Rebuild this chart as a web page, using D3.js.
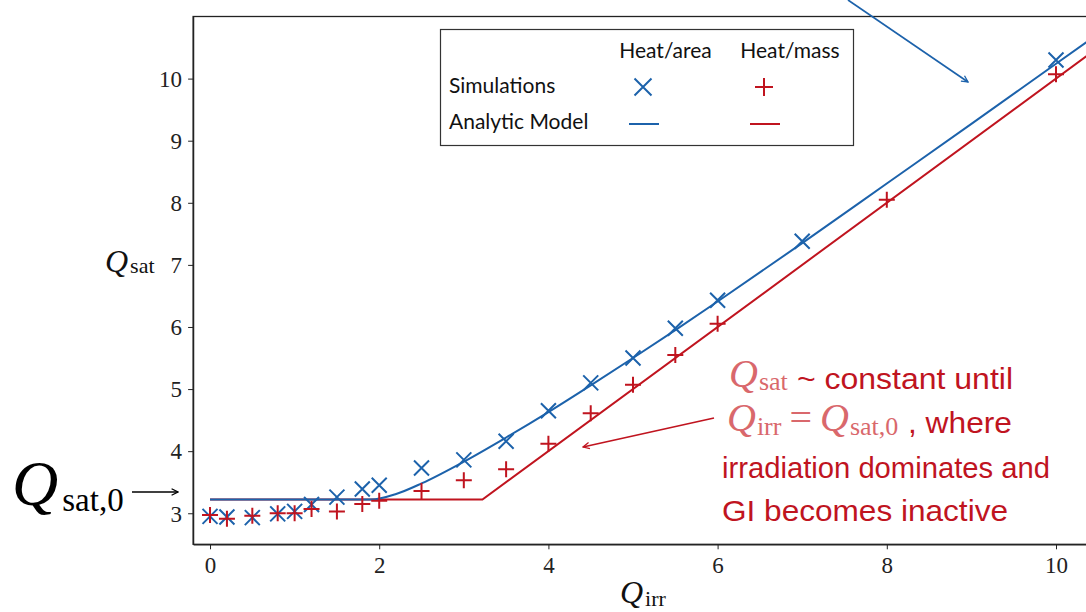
<!DOCTYPE html>
<html><head><meta charset="utf-8">
<script src="https://cdn.jsdelivr.net/npm/d3@7"></script>
<style>
body{margin:0;background:#fff;}
svg{display:block;overflow:hidden;}
</style></head>
<body>
<svg id="chart" width="1086" height="612"></svg>
<script>
// ---- data ----
const xTicks = [0, 2, 4, 6, 8, 10];
const yTicks = [3, 4, 5, 6, 7, 8, 9, 10];
const simQirr = [0, 0.2, 0.5, 0.8, 1.0, 1.2, 1.5, 1.8, 2.0, 2.5, 3.0, 3.5, 4.0, 4.5, 5.0, 5.5, 6.0];
const simArea = [2.95, 2.94, 2.93, 2.99, 3.03, 3.14, 3.26, 3.39, 3.45, 3.73, 3.86, 4.16, 4.65, 5.10, 5.50, 5.98, 6.43];
const simMass = [2.97, 2.91, 2.96, 3.00, 3.00, 3.07, 3.03, 3.15, 3.20, 3.36, 3.53, 3.71, 4.12, 4.61, 5.07, 5.55, 6.05];
const extraAreaQirr = [7, 10];
const extraArea = [7.38, 10.30];
const extraMassQirr = [8, 10];
const extraMass = [8.05, 10.07];
const modelAreaQirr = [0, 1.9, 2.2, 2.5, 3.0, 3.5, 4.0, 4.5, 5.0, 5.5, 6.0, 7.0, 8.0, 9.0, 10.0, 10.6];
const modelArea =     [3.22, 3.22, 3.31, 3.48, 3.83, 4.22, 4.63, 5.06, 5.50, 5.95, 6.41, 7.35, 8.31, 9.27, 10.24, 10.82];
const modelMassQirr = [0, 3.22, 10.6];
const modelMass =     [3.22, 3.22, 10.6];

const BLUE = "#1c62ab", RED = "#c0141f", PINK = "#d9686c";
const svg = d3.select("#chart");

const x = d3.scaleLinear().domain([-0.2, 10.5]).range([193.1, 1098.3]);
const y = d3.scaleLinear().domain([2.5, 11.0]).range([544.3, 16.5]);

// frame (top + bottom + left spines)
svg.append("rect").attr("x", x(-0.2)).attr("y", y(11)).attr("width", x(10.5) - x(-0.2)).attr("height", y(2.5) - y(11))
  .attr("fill", "none").attr("stroke", "#222").attr("stroke-width", 1.3);

const serif = "'Liberation Serif', 'DejaVu Serif', serif";
const xAxis = svg.append("g").attr("transform", `translate(0,${y(2.5)})`)
  .call(d3.axisBottom(x).tickValues(xTicks).tickSize(5).tickSizeOuter(0).tickPadding(7).tickFormat(d3.format("d")));
const yAxis = svg.append("g").attr("transform", `translate(${x(-0.2)},0)`)
  .call(d3.axisLeft(y).tickValues(yTicks).tickSize(5).tickSizeOuter(0).tickPadding(6).tickFormat(d3.format("d")));
[xAxis, yAxis].forEach(a => {
  a.select(".domain").attr("stroke", "#222").attr("stroke-width", 1.3);
  a.selectAll(".tick line").attr("stroke", "#222").attr("stroke-width", 1);
  a.selectAll(".tick text").attr("font-family", serif).attr("font-size", 23).attr("fill", "#222");
});
yAxis.selectAll(".tick text").attr("dy", "0.34em");

// model lines
const line = d3.line().x(d => x(d[0])).y(d => y(d[1]));
svg.append("path").datum(modelMassQirr.map((q, i) => [q, modelMass[i]]))
  .attr("d", line).attr("fill", "none").attr("stroke", RED).attr("stroke-width", 2);
svg.append("path").datum(modelAreaQirr.map((q, i) => [q, modelArea[i]]))
  .attr("d", line.curve(d3.curveMonotoneX)).attr("fill", "none").attr("stroke", BLUE).attr("stroke-width", 2);

// markers
function xMark(g, cx, cy, s, col) {
  g.append("path").attr("d", `M${cx - s},${cy - s}L${cx + s},${cy + s}M${cx - s},${cy + s}L${cx + s},${cy - s}`)
    .attr("stroke", col).attr("stroke-width", 2).attr("fill", "none");
}
function plusMark(g, cx, cy, s, col) {
  g.append("path").attr("d", `M${cx - s},${cy}L${cx + s},${cy}M${cx},${cy - s}L${cx},${cy + s}`)
    .attr("stroke", col).attr("stroke-width", 2).attr("fill", "none");
}
const mk = svg.append("g");
const areaPts = simQirr.map((q, i) => [q, simArea[i]]).concat(extraAreaQirr.map((q, i) => [q, extraArea[i]]));
const massPts = simQirr.map((q, i) => [q, simMass[i]]).concat(extraMassQirr.map((q, i) => [q, extraMass[i]]));
areaPts.forEach(d => xMark(mk, x(d[0]), y(d[1]), 7.5, BLUE));
massPts.forEach(d => plusMark(mk, x(d[0]), y(d[1]), 8, RED));

// legend
const lg = svg.append("g");
lg.append("rect").attr("x", 440.5).attr("y", 29.5).attr("width", 413).attr("height", 116)
  .attr("fill", "#fff").attr("stroke", "#333").attr("stroke-width", 1.2);
const sans = "Lato, 'Open Sans', sans-serif";
const lt = (t, xx, yy, anchor) => lg.append("text").attr("x", xx).attr("y", yy).attr("text-anchor", anchor || "start")
  .attr("font-family", sans).attr("font-size", 21).attr("fill", "#111").text(t);
lt("Heat/area", 665.5, 58, "middle");
lt("Heat/mass", 790, 58, "middle");
lt("Simulations", 449, 93);
lt("Analytic Model", 449, 129);
xMark(lg, 643, 87, 8.5, BLUE);
plusMark(lg, 764, 87, 9, RED);
lg.append("line").attr("x1", 629).attr("x2", 659).attr("y1", 124).attr("y2", 124).attr("stroke", BLUE).attr("stroke-width", 2);
lg.append("line").attr("x1", 750).attr("x2", 780).attr("y1", 124).attr("y2", 124).attr("stroke", RED).attr("stroke-width", 2);

// arrow markers
const defs = svg.append("defs");
function arrowDef(id, col) {
  defs.append("marker").attr("id", id).attr("viewBox", "0 0 10 10").attr("refX", 9).attr("refY", 5)
    .attr("markerWidth", 8).attr("markerHeight", 8).attr("orient", "auto").attr("markerUnits", "userSpaceOnUse")
    .append("path").attr("d", "M1,1L9,5L1,9").attr("fill", "none").attr("stroke", col).attr("stroke-width", 1.6);
}
arrowDef("aBlue", BLUE); arrowDef("aRed", RED); arrowDef("aBlack", "#000");

svg.append("line").attr("x1", 848).attr("y1", 0).attr("x2", 968).attr("y2", 82)
  .attr("stroke", BLUE).attr("stroke-width", 1.7).attr("marker-end", "url(#aBlue)");
svg.append("line").attr("x1", 714).attr("y1", 418).attr("x2", 583).attr("y2", 447)
  .attr("stroke", RED).attr("stroke-width", 1.7).attr("marker-end", "url(#aRed)");

// math-style text helper: parts {t, it, size, dy, dx}
function mathText(parent, xx, yy, col, parts) {
  const t = parent.append("text").attr("x", xx).attr("y", yy).attr("font-family", serif).attr("fill", col);
  parts.forEach(p => {
    const s = t.append("tspan").text(p.t).attr("font-size", p.size);
    if (p.it) s.attr("font-style", "italic");
    if (p.dy) s.attr("dy", p.dy);
    if (p.dx) s.attr("dx", p.dx);
  });
  return t;
}

// axis labels
mathText(svg, 105, 272, "#111", [{t: "Q", it: true, size: 32}, {t: "sat", size: 22, dy: 1, dx: 2}]);
mathText(svg, 620, 603, "#111", [{t: "Q", it: true, size: 32}, {t: "irr", size: 22, dy: 3, dx: 2}]);

// big Q_sat,0 label with arrow
mathText(svg, 12, 505, "#000", [{t: "Q", it: true, size: 64}, {t: "sat,0", size: 33, dy: 6, dx: 4}]);
svg.append("line").attr("x1", 132).attr("y1", 492).attr("x2", 178).attr("y2", 492)
  .attr("stroke", "#000").attr("stroke-width", 1.5).attr("marker-end", "url(#aBlack)");

// annotation
const an = svg.append("g");
const asans = "'Liberation Sans', Arial, sans-serif";
const atext = (t, xx, yy, w) => an.append("text").attr("x", xx).attr("y", yy).attr("font-family", asans)
  .attr("font-size", 30).attr("fill", RED).attr("textLength", w).attr("lengthAdjust", "spacingAndGlyphs").text(t);
mathText(an, 729, 387, PINK, [{t: "Q", it: true, size: 40}, {t: "sat", size: 26, dy: 3, dx: 1}]);
atext("~ constant until", 797, 389, 216);
mathText(an, 727, 431, PINK, [{t: "Q", it: true, size: 40}, {t: "irr", size: 26, dy: 4, dx: 1},
  {t: "=", size: 40, dy: -4, dx: 8}, {t: "Q", it: true, size: 40, dx: 8}, {t: "sat,0", size: 26, dy: 4, dx: 1}]);
atext(", where", 908, 433, 104);
atext("irradiation dominates and", 722, 478, 328);
atext("GI becomes inactive", 722, 521, 286);
</script>
</body></html>
